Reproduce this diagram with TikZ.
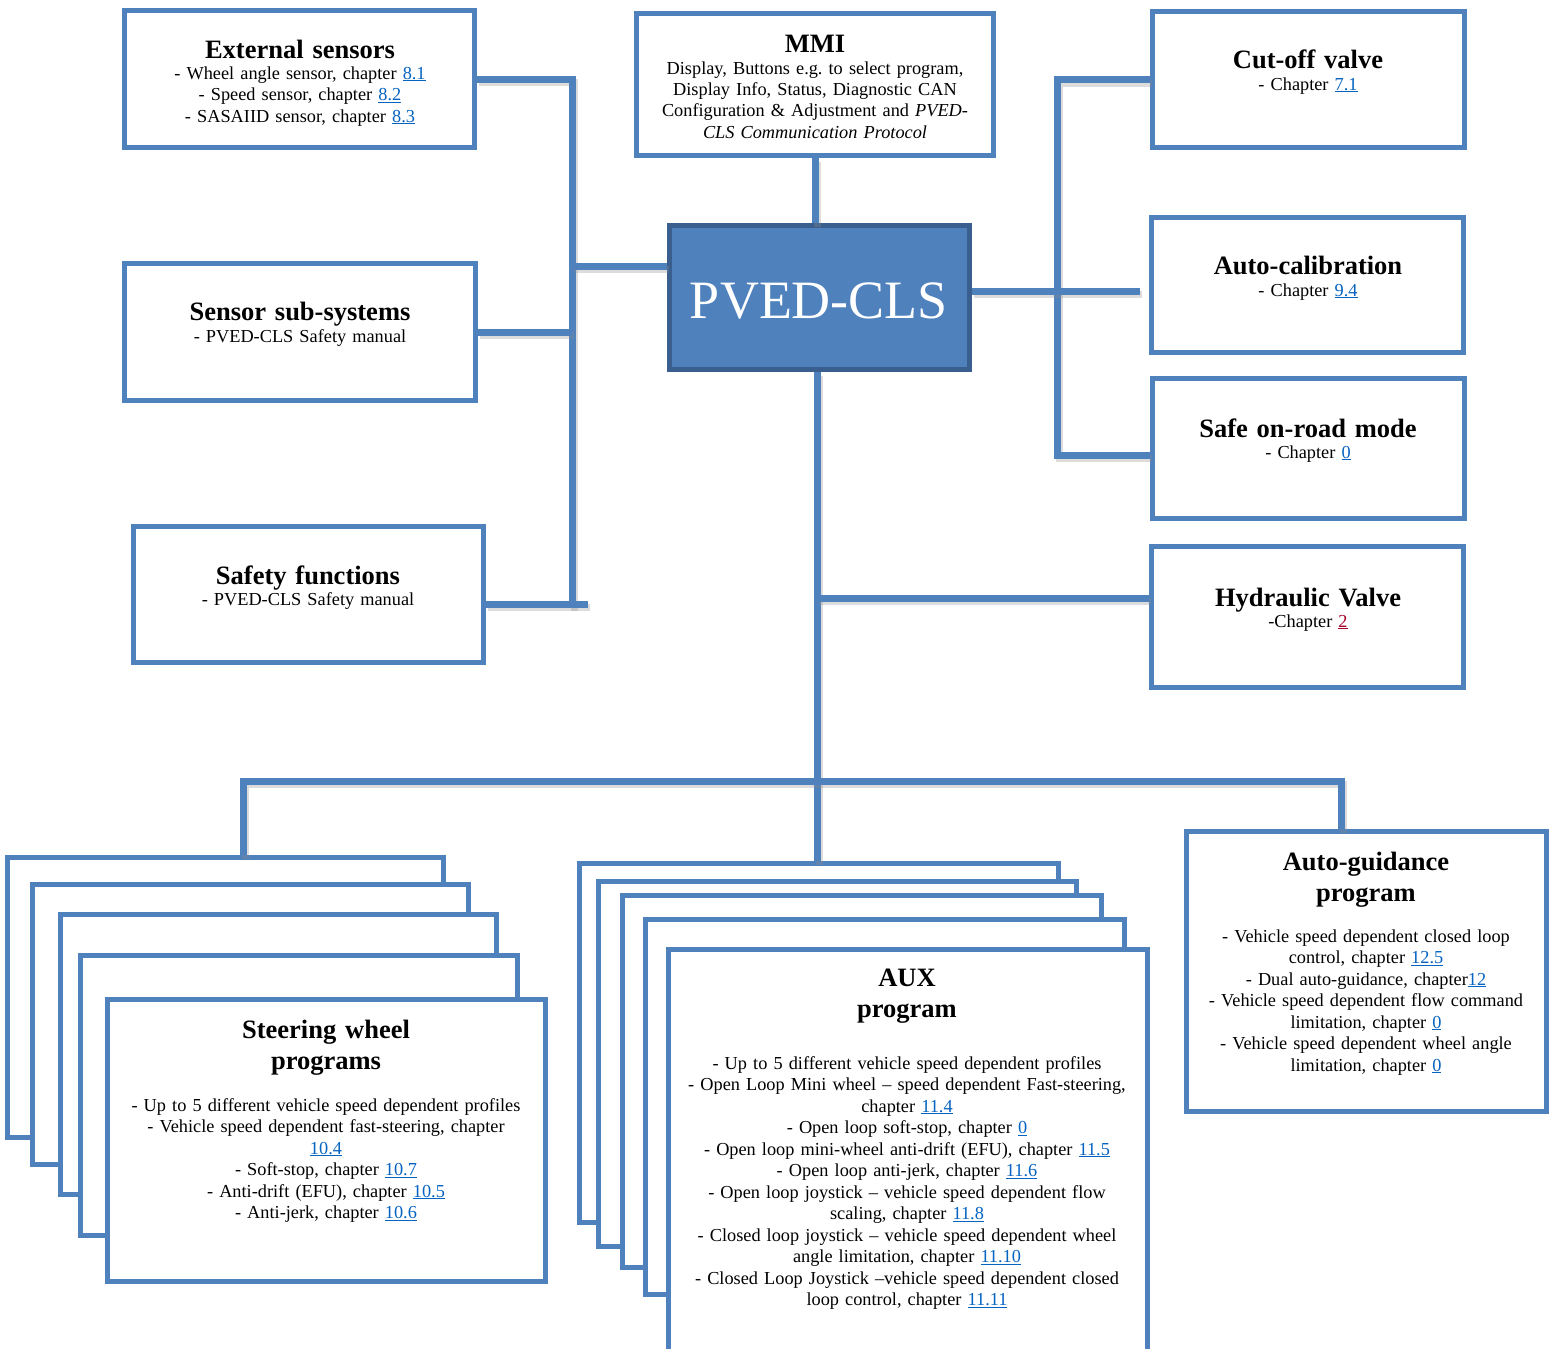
\documentclass[tikz,border=0pt]{standalone}
\usepackage{fontspec}
\setmainfont{Liberation Serif}
\usetikzlibrary{fit}
\definecolor{boxblue}{HTML}{4F81BD}
\definecolor{pvborder}{HTML}{3A5F8E}
\definecolor{linkblue}{HTML}{0563C1}
\definecolor{linkred}{HTML}{A5002A}
\newcommand\lnk[1]{\textcolor{linkblue}{\underline{#1}}}
\newcommand\rlnk[1]{\textcolor{linkred}{\underline{#1}}}
\newcommand\bodyf{\fontsize{18.3}{21.5}\selectfont\frenchspacing}
\newcommand\titf{\fontsize{26.5}{31}\selectfont\bfseries\frenchspacing}
\tikzset{
  box/.style={draw=boxblue, line width=5pt, fill=white, inner sep=0pt},
  pvbox/.style={draw=pvborder, line width=5pt, fill=boxblue, inner sep=0pt},
  conn/.style={draw=boxblue, line width=7pt, line join=miter,
    preaction={draw=black!45, opacity=0.3, line width=7pt, transform canvas={xshift=2pt, yshift=-3.5pt}}},
  txt/.style={anchor=base, align=center, text width=520pt, inner sep=0pt, font=\bodyf},
  ttl/.style={anchor=base, align=center, text width=520pt, inner sep=0pt, font=\titf},
}
\begin{document}
\begin{tikzpicture}[x=1pt,y=-1pt]
\useasboundingbox (0,0) rectangle (1556,1349);

% ---- junction coordinates ----
\coordinate (ltb) at (572,607);
\coordinate (pl) at (572,266);
\coordinate (sfj) at (588,604);
\coordinate (cx) at (817,0);
\coordinate (hj) at (817,598);
\coordinate (bbl) at (243,781);
\coordinate (bbr) at (1341,781);
\coordinate (rb) at (1057,455);
\coordinate (pr) at (1140,291);

% ---- boxes ----
\node[box, fit={(124.5,10.5) (474.5,147.5)}] (es) {};
\node[box, fit={(124.5,263.5) (475.5,400.5)}] (ss) {};
\node[box, fit={(133.5,526.5) (483.5,662.5)}] (sf) {};
\node[box, fit={(636.5,13.5) (993.5,155.5)}] (mmi) {};
\node[pvbox, fit={(669.5,225.5) (969.5,369.5)}] (pv) {};
\node[box, fit={(1152.5,11.5) (1464.5,147.5)}] (cv) {};
\node[box, fit={(1151.5,217.5) (1463.5,352.5)}] (ac) {};
\node[box, fit={(1152.5,378.5) (1464.5,518.5)}] (so) {};
\node[box, fit={(1151.5,546.5) (1463.5,687.5)}] (hv) {};
\node[box, fit={(1186.5,831.5) (1546.5,1111.5)}] (ag) {};

\node[box, fit={(7.5,857.5) (443.5,1137.5)}] (b1) {};
\node[box, fit={(32.5,884.5) (468.5,1164.5)}] (b2) {};
\node[box, fit={(60.5,914.5) (496.5,1194.5)}] (b3) {};
\node[box, fit={(80.5,955.5) (517.5,1235.5)}] (b4) {};
\node[box, fit={(107.5,999.5) (545.5,1281.5)}] (b5) {};

\node[box, fit={(579.5,863.5) (1058.5,1222.5)}] (a1) {};
\node[box, fit={(598.5,881.5) (1076.5,1246.5)}] (a2) {};
\node[box, fit={(622.5,895.5) (1101.5,1267.5)}] (a3) {};
\node[box, fit={(645.5,919.5) (1124.5,1294.5)}] (a4) {};
\node[box, fit={(668.5,949.5) (1147.5,1358)}] (a5) {};

% ---- connectors ----
\draw[conn] (es.east) -| (ltb);
\draw[conn] (ss.east) -- (ss.east -| ltb);
\draw[conn] (sfj -| sf.east) -- (sfj);
\draw[conn] (pl -| pv.west) -- (pl);
\draw[conn] (mmi.south) -- (mmi.south |- pv.north);
\draw[conn] (cx |- pv.south) -- (cx |- a1.north);
\draw[conn] (hj) -- (hj -| hv.west);
\draw[conn] (bbl |- b1.north) -- (bbl) -- (bbr) -- (bbr |- ag.north);
\draw[conn] (cv.west) -| (rb) -- (rb -| so.west);
\draw[conn] (pr -| pv.east) -- (pr);

% ---- texts ----
\node[ttl] (es-t) at (300,58) {External sensors};
\node[txt] (es-b) at (300,79) {- Wheel angle sensor, chapter \lnk{8.1}\\- Speed sensor, chapter \lnk{8.2}\\- SASAIID sensor, chapter \lnk{8.3}};

\node[ttl] (ss-t) at (300,320) {Sensor sub-systems};
\node[txt] (ss-b) at (300,342) {- PVED-CLS Safety manual};

\node[ttl] (sf-t) at (308,584) {Safety functions};
\node[txt] (sf-b) at (308,605) {- PVED-CLS Safety manual};

\node[ttl] (mmi-t) at (815,52) {MMI};
\node[txt] (mmi-b) at (815,74) {Display, Buttons e.g. to select program,\\Display Info, Status, Diagnostic CAN\\Configuration \& Adjustment and \textit{PVED-}\\\textit{CLS Communication Protocol}};

\node[txt, text=white, font=\fontsize{54}{60}\selectfont] (pv-t) at (819,318) {PVED-CLS};

\node[ttl] (cv-t) at (1308,68) {Cut-off valve};
\node[txt] (cv-b) at (1308,90) {- Chapter \lnk{7.1}};

\node[ttl] (ac-t) at (1308,274) {Auto-calibration};
\node[txt] (ac-b) at (1308,296) {- Chapter \lnk{9.4}};

\node[ttl] (so-t) at (1308,437) {Safe on-road mode};
\node[txt] (so-b) at (1308,458) {- Chapter \lnk{0}};

\node[ttl] (hv-t) at (1308,606) {Hydraulic Valve};
\node[txt] (hv-b) at (1308,627) {-Chapter \rlnk{2}};

\node[ttl] (sw-t) at (326,1038) {Steering wheel\\programs};
\node[txt] (sw-b) at (326,1111) {- Up to 5 different vehicle speed dependent profiles\\- Vehicle speed dependent fast-steering, chapter\\\lnk{10.4}\\- Soft-stop, chapter \lnk{10.7}\\- Anti-drift (EFU), chapter \lnk{10.5}\\- Anti-jerk, chapter \lnk{10.6}};

\node[ttl] (aux-t) at (907,986) {AUX\\program};
\node[txt] (aux-b) at (907,1069) {- Up to 5 different vehicle speed dependent profiles\\- Open Loop Mini wheel – speed dependent Fast-steering,\\chapter \lnk{11.4}\\- Open loop soft-stop, chapter \lnk{0}\\- Open loop mini-wheel anti-drift (EFU), chapter \lnk{11.5}\\- Open loop anti-jerk, chapter \lnk{11.6}\\- Open loop joystick – vehicle speed dependent flow\\scaling, chapter \lnk{11.8}\\- Closed loop joystick – vehicle speed dependent wheel\\angle limitation, chapter \lnk{11.10}\\- Closed Loop Joystick –vehicle speed dependent closed\\loop control, chapter \lnk{11.11}};

\node[ttl] (ag-t) at (1366,870) {Auto-guidance\\program};
\node[txt] (ag-b) at (1366,942) {- Vehicle speed dependent closed loop\\control, chapter \lnk{12.5}\\- Dual auto-guidance, chapter\lnk{12}\\- Vehicle speed dependent flow command\\limitation, chapter \lnk{0}\\- Vehicle speed dependent wheel angle\\limitation, chapter \lnk{0}};
\end{tikzpicture}
\end{document}
